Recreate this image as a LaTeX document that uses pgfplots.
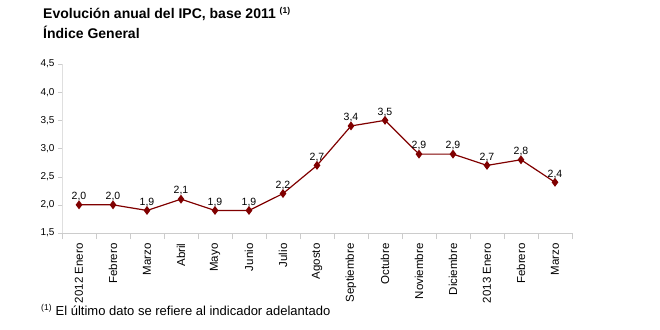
\documentclass[border=0pt]{standalone}
\usepackage{pgfplots}
\pgfplotsset{compat=1.18}
\usepackage{fontspec}
\setmainfont{Liberation Sans}
\definecolor{ipc}{HTML}{800000}
\begin{document}
\begin{tikzpicture}[x=1pt,y=1pt]
\path (0,0) rectangle (660,329);
\node[anchor=base west,inner sep=0,font=\fontsize{14}{16}\selectfont\bfseries] at (43,310) {Evolución anual del IPC, base 2011 \textsuperscript{\fontsize{8.5}{9}\selectfont(1)}};
\node[anchor=base west,inner sep=0,font=\fontsize{14}{16}\selectfont\bfseries] at (43,290) {Índice General};
\node[anchor=base west,inner sep=0,font=\fontsize{13}{15}\selectfont] at (41,14) {\textsuperscript{\fontsize{8.5}{9}\selectfont(1)} El último dato se refiere al indicador adelantado};
\begin{axis}[
  at={(62pt,96pt)}, anchor=south west,
  scale only axis, width=510pt, height=169pt,
  xmin=-0.5, xmax=14.5, ymin=1.5, ymax=4.5,
  ytick={1.5,2,...,4.5},
  yticklabel style={font=\fontsize{10}{11}\selectfont,/pgf/number format/.cd,fixed,fixed zerofill,precision=1,use comma},
  /pgf/number format/assume math mode=true,
  xtick={0,...,14},
  xticklabels={2012 Enero,Febrero,Marzo,Abril,Mayo,Junio,Julio,Agosto,Septiembre,Octubre,Noviembre,Diciembre,2013 Enero,Febrero,Marzo},
  xticklabel style={rotate=90,anchor=east,font=\fontsize{11.5}{13}\selectfont},
  minor xtick={-0.5,0.5,...,14.5},
  major x tick style={draw=none},
  minor x tick style={draw=gray!40},
  minor tick length=6pt,
  major tick length=4pt,
  tick align=outside,
  y tick style={draw=gray!40},
  axis x line*=bottom, axis y line*=left,
  x axis line style={draw=gray!40},
  y axis line style={draw=gray!25},
  axis line style={-},
  xticklabel shift=3pt,
  clip=false,
  nodes near coords,
  nodes near coords style={font=\fontsize{10.5}{12}\selectfont,black,/pgf/number format/.cd,fixed,fixed zerofill,precision=1,use comma,assume math mode=true},
]
\addplot[color=ipc, line width=1.2pt, mark=diamond*, mark size=3.5pt, mark options={fill=ipc}] coordinates {
(0,2.0)(1,2.0)(2,1.9)(3,2.1)(4,1.9)(5,1.9)(6,2.2)(7,2.7)(8,3.4)(9,3.5)(10,2.9)(11,2.9)(12,2.7)(13,2.8)(14,2.4)};
\end{axis}
\end{tikzpicture}
\end{document}
